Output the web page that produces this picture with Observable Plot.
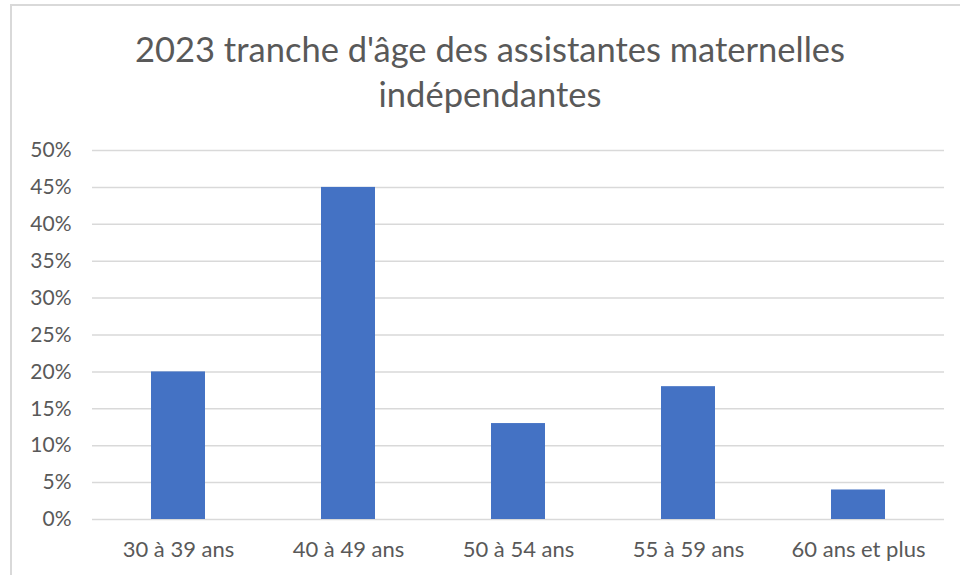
<!DOCTYPE html>
<html>
<head>
<meta charset="utf-8">
<script src="https://cdn.jsdelivr.net/npm/d3@7"></script>
<script src="https://cdn.jsdelivr.net/npm/@observablehq/plot@0.6"></script>
<style>
  html, body { margin: 0; padding: 0; background: #fff; }
  #wrap { position: relative; width: 960px; height: 575px; overflow: hidden; font-family: Lato, "Open Sans", sans-serif; }
  #frame { position: absolute; left: 10px; top: 4px; width: 1000px; height: 1000px; border-left: 2px solid #d9d9d9; border-top: 2px solid #d9d9d9; box-sizing: border-box; }
  #title { position: absolute; left: 0; top: 26px; width: 980px; text-align: center; font-size: 34.5px; line-height: 45px; color: #595959; }
  #chart { position: absolute; left: 0; top: 0; }
</style>
</head>
<body>
<div id="wrap">
  <div id="frame"></div>
  <div id="chart"></div>
  <div id="title">2023 tranche d'âge des assistantes maternelles<br>indépendantes</div>
</div>
<script>
const categories = ["30 à 39 ans", "40 à 49 ans", "50 à 54 ans", "55 à 59 ans", "60 ans et plus"];
const values = [0.20, 0.45, 0.13, 0.18, 0.04];
const yTicks = [0, 0.05, 0.10, 0.15, 0.20, 0.25, 0.30, 0.35, 0.40, 0.45, 0.50];

const data = categories.map((c, i) => ({category: c, value: values[i]}));

const chart = Plot.plot({
  width: 960,
  height: 575,
  marginTop: 150,
  marginBottom: 56,
  marginLeft: 92,
  marginRight: 16,
  style: {background: "transparent", fontFamily: "Lato, 'Open Sans', sans-serif", color: "#595959"},
  x: {domain: categories, paddingInner: 0.683, paddingOuter: 0.3415, label: null},
  y: {domain: [0, 0.5], label: null},
  marks: [
    Plot.ruleY(yTicks, {stroke: "#d9d9d9", strokeWidth: 1.5}),
    Plot.barY(data, {x: "category", y: "value", fill: "#4472C4"}),
    Plot.axisY(yTicks, {tickSize: 0, tickPadding: 21, tickFormat: d3.format(".0%"), fontSize: 21, fill: "#595959", label: null}),
    Plot.axisX({tickSize: 0, tickPadding: 22, fontSize: 22, fill: "#595959", label: null})
  ]
});
document.getElementById("chart").appendChild(chart);
</script>
</body>
</html>
